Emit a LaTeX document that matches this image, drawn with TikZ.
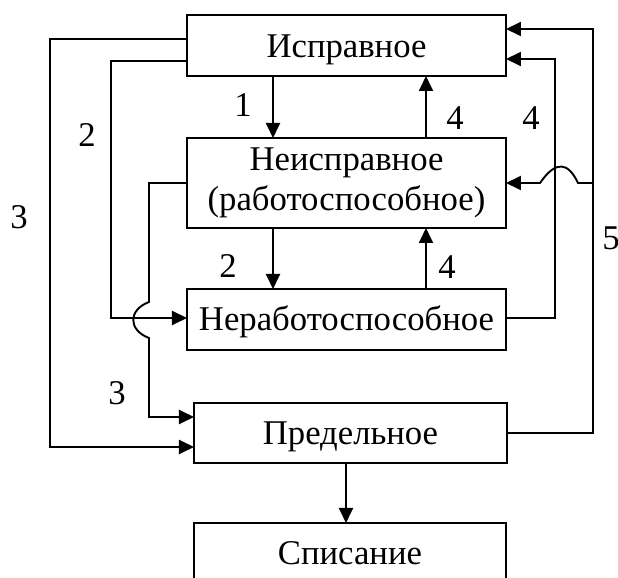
\documentclass[tikz,border=0pt]{standalone}
\usepackage{fontspec}
\setmainfont{Liberation Serif}
\usetikzlibrary{arrows.meta}

\begin{document}
\begin{tikzpicture}[x=0.5pt,y=-0.5pt,
		font=\fontsize{17.35pt}{20pt}\selectfont,
		state/.style={draw, line width=1.1pt, minimum width=159.5pt, minimum height=30.5pt, inner sep=0pt, outer sep=0pt, align=center},
		oneline/.style={state, text height=11.5pt, text depth=0pt},
		arr/.style={-{Triangle[length=7.5pt,width=7pt]}, line width=0.95pt},
		num/.style={inner sep=0pt}]
		\clip (0,0) rectangle (618,578);
		% states
		\node[oneline] (isp) at (346.5,45.5) {Исправное};
		\node[state, minimum height=45pt] (neisp) at (346.5,183) {Неисправное\\(работоспособное)};
		\node[oneline] (nerab) at (346.5,319.5) {Неработоспособное};
		\node[oneline, minimum width=156.5pt, minimum height=30pt] (pred) at (350.5,433) {Предельное};
		\node[oneline, minimum width=156pt] (spis) at (350,553.5) {Списание};
		% bends
		\coordinate (L3) at (50,39);
		\coordinate (L2) at (111,61);
		\coordinate (L3b) at (149,183);
		\coordinate (R4) at (555,318);
		\coordinate (R5) at (593,433);
		\coordinate (J5) at (593,183);
		% down the middle
		\draw[arr] (isp.south -| 273,0) -- (neisp.north -| 273,0);
		\draw[arr] (neisp.south -| 273,0) -- (nerab.north -| 273,0);
		\draw[arr] (neisp.north -| 426,0) -- (isp.south -| 426,0);
		\draw[arr] (nerab.north -| 426,0) -- (neisp.south -| 426,0);
		\draw[arr] (pred.south -| 346,0) -- (spis.north -| 346,0);
		% left side
		\draw[arr] (isp.west |- L3) -- (L3) -- (L3 |- 0,447) -- (pred.west |- 0,447);
		\draw[arr] (isp.west |- L2) -- (L2) -- (L2 |- 0,318) -- (nerab.west |- 0,318);
		\draw[arr] (neisp.west |- L3b) -- (L3b) -- (149,302) .. controls (128,310) and (128,330) .. (149,338) -- (149,417) -- (pred.west |- 0,417);
		% right side
		\draw[arr] (nerab.east |- R4) -- (R4) -- (R4 |- 0,59) -- (isp.east |- 0,59);
		\draw[arr] (pred.east |- R5) -- (R5) -- (R5 |- 0,29) -- (isp.east |- 0,29);
		\draw[arr] (J5) -- (578,183) .. controls (568,162) and (556,160) .. (540,183) -- (neisp.east |- J5);
		% numbers
		\node[num] (n1) at (243,105) {1};
		\node[num] (n2a) at (87,135) {2};
		\node[num] (n3a) at (19,217) {3};
		\node[num] (n2b) at (228,266) {2};
		\node[num] (n4a) at (455,118) {4};
		\node[num] (n4b) at (531,118) {4};
		\node[num] (n4c) at (447,267) {4};
		\node[num] (n3b) at (117,393) {3};
		\node[num] (n5) at (611,238) {5};
	\end{tikzpicture}
\end{document}
